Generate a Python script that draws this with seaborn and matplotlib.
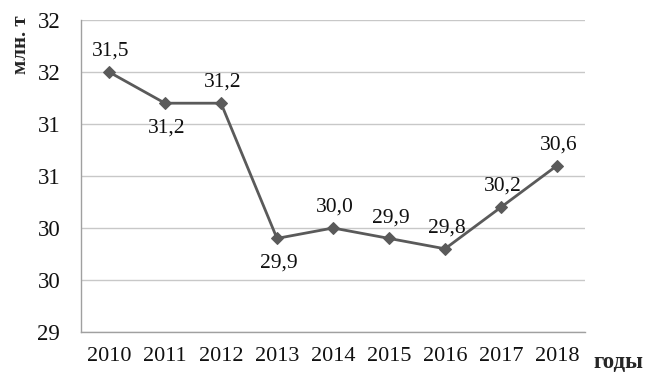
import matplotlib
matplotlib.use("Agg")
import matplotlib.pyplot as plt
import seaborn as sns
import pandas as pd
import numpy as np

years = ["2010", "2011", "2012", "2013", "2014", "2015", "2016", "2017", "2018"]
values = [31.5, 31.2, 31.2, 29.9, 30.0, 29.9, 29.8, 30.2, 30.6]
labels = ["31,5", "31,2", "31,2", "29,9", "30,0", "29,9", "29,8", "30,2", "30,6"]
label_above = [True, False, True, False, True, True, True, True, True]
ytick_values = [29.0, 29.5, 30.0, 30.5, 31.0, 31.5, 32.0]
ytick_labels = ["29", "30", "30", "31", "31", "32", "32"]

sns.set_style("white")
plt.rcParams["font.family"] = ["Liberation Serif", "DejaVu Serif"]

df = pd.DataFrame({"x": np.arange(len(years)), "v": values})

fig = plt.figure(figsize=(6.48, 3.88), dpi=100)
ax = fig.add_axes([81/648, 1-332/388, 504/648, 312/388])

line_color = "#5a5a5a"
sns.lineplot(data=df, x="x", y="v", ax=ax, color=line_color, linewidth=2,
             marker="D", markersize=6.5, markeredgecolor=line_color)

ax.set_xlim(-0.5, len(years) - 0.5)
ax.set_ylim(29, 32)
ax.set_yticks(ytick_values)
ax.set_yticklabels(ytick_labels, fontsize=16.5)
ax.set_xticks(df["x"])
ax.set_xticklabels(years, fontsize=16)
ax.set_xticks(np.arange(-0.5, len(years)), minor=True)
ax.tick_params(axis="x", which="major", length=0, pad=11, colors="#111111")
ax.tick_params(axis="x", which="minor", length=5, color="#a0a0a0", width=1)
ax.tick_params(axis="y", length=6, color="#a0a0a0", width=1, pad=9,
               labelcolor="#111111")
ax.grid(axis="y", color="#c8c8c8", linewidth=1)
ax.set_xlabel("")
ax.set_ylabel("")
for s in ["top", "right"]:
    ax.spines[s].set_visible(False)
for s in ["left", "bottom"]:
    ax.spines[s].set_color("#a0a0a0")
    ax.spines[s].set_linewidth(1)

for i, (v, lab, up) in enumerate(zip(values, labels, label_above)):
    dy = 15 if up else -18
    ax.annotate(lab, (i, v), xytext=(1, dy), textcoords="offset points",
                ha="center", va="center", fontsize=15.5, color="#111111")

fig.text(21/648, 1-45/388, "млн. т", rotation=90, ha="center", va="center",
         fontsize=15, fontweight="bold")
fig.text(618/648, 1-362/388, "годы", ha="center", va="center",
         fontsize=16.5, fontweight="bold")

fig.savefig("out.png", dpi=100)
